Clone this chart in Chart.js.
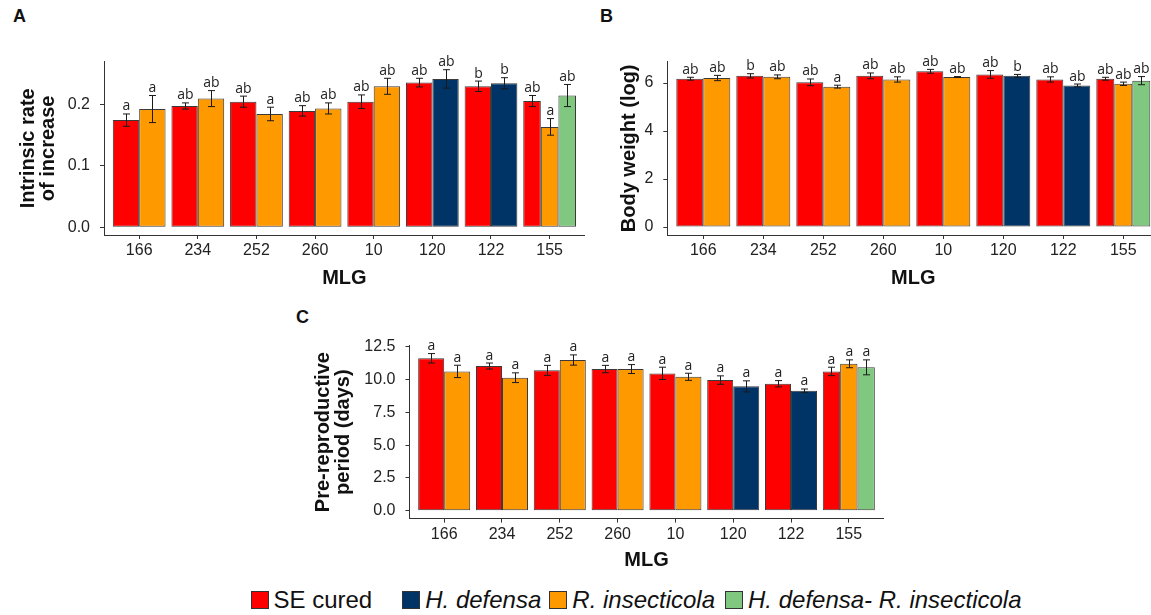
<!DOCTYPE html>
<html>
<head>
<meta charset="utf-8">
<script src="https://cdn.jsdelivr.net/npm/chart.js@4.4.1/dist/chart.umd.min.js"></script>
<style>
  body { margin: 0; width: 1151px; height: 615px; overflow: hidden; background: #fff; position: relative; font-family: "Liberation Sans", Arial, sans-serif; }
  canvas { position: absolute; }
  .tag { position: absolute; font: bold 18px "Liberation Sans", Arial, sans-serif; line-height: 20px; color: #111; }
  #legend { position: absolute; top: 587px; left: 0; width: 1272px; display: flex; justify-content: center; align-items: center; font-size: 24px; color: #111; line-height: 26px; }
  #legend .sw { width: 16px; height: 16px; border: 1px solid #333; margin-right: 5px; }
  #legend i { font-style: italic; }
</style>
</head>
<body>
<div class="tag" style="left:13px;top:6px">A</div>
<div class="tag" style="left:600px;top:6px">B</div>
<div class="tag" style="left:296px;top:307px">C</div>

<canvas id="rateChart" width="600" height="300" style="left:0;top:0"></canvas>
<canvas id="weightChart" width="600" height="300" style="left:580px;top:0"></canvas>
<canvas id="periodChart" width="640" height="285" style="left:270px;top:300px"></canvas>

<div id="legend">
  <span class="sw" style="background:#FF0000"></span><span style="margin-right:30px">SE cured</span>
  <span class="sw" style="background:#003366"></span><span style="margin-right:8px"><i>H. defensa</i></span>
  <span class="sw" style="background:#FF9900"></span><span style="margin-right:10px"><i>R. insecticola</i></span>
  <span class="sw" style="background:#80C880"></span><span><i>H. defensa- R. insecticola</i></span>
</div>

<script>
// ── Data ─────────────────────────────────────────────────────
const mlg = ['166', '234', '252', '260', '10', '120', '122', '155'];

// A: intrinsic rate of increase
const rateCured     = [0.174, 0.197, 0.204, 0.189, 0.204, 0.235, 0.229, 0.205];
const rateCuredErr  = [0.010, 0.005, 0.009, 0.0085, 0.011, 0.007, 0.0085, 0.009];
const rateCuredLet  = ['a', 'ab', 'ab', 'ab', 'ab', 'ab', 'b', 'ab'];
const rateHd        = [null, null, null, null, null, 0.241, 0.234, null];
const rateHdErr     = [null, null, null, null, null, 0.015, 0.009, null];
const rateHdLet     = [null, null, null, null, null, 'ab', 'b', null];
const rateRi        = [0.192, 0.209, 0.184, 0.193, 0.229, null, null, 0.163];
const rateRiErr     = [0.022, 0.013, 0.011, 0.009, 0.013, null, null, 0.0135];
const rateRiLet     = ['a', 'ab', 'a', 'ab', 'ab', null, null, 'a'];
const rateHdRi      = [null, null, null, null, null, null, null, 0.214];
const rateHdRiErr   = [null, null, null, null, null, null, null, 0.018];
const rateHdRiLet   = [null, null, null, null, null, null, null, 'ab'];
const rateTicks     = [0, 0.1, 0.2];

// B: body weight (log)
const wtCured       = [6.18, 6.30, 6.03, 6.30, 6.49, 6.36, 6.15, 6.18];
const wtCuredErr    = [0.06, 0.09, 0.14, 0.12, 0.08, 0.16, 0.11, 0.06];
const wtCuredLet    = ['ab', 'b', 'ab', 'ab', 'ab', 'ab', 'ab', 'ab'];
const wtHd          = [null, null, null, null, null, 6.30, 5.90, null];
const wtHdErr       = [null, null, null, null, null, 0.06, 0.06, null];
const wtHdLet       = [null, null, null, null, null, 'b', 'ab', null];
const wtRi          = [6.21, 6.26, 5.85, 6.15, 6.25, null, null, 5.97];
const wtRiErr       = [0.11, 0.08, 0.06, 0.11, 0.02, null, null, 0.07];
const wtRiLet       = ['ab', 'ab', 'a', 'ab', 'ab', null, null, 'ab'];
const wtHdRi        = [null, null, null, null, null, null, null, 6.10];
const wtHdRiErr     = [null, null, null, null, null, null, null, 0.17];
const wtHdRiLet     = [null, null, null, null, null, null, null, 'ab'];
const wtTicks       = [0, 2, 4, 6];

// C: pre-reproductive period (days)
const perCured      = [11.62, 11.03, 10.70, 10.80, 10.47, 9.96, 9.68, 10.62];
const perCuredErr   = [0.36, 0.23, 0.38, 0.28, 0.47, 0.32, 0.24, 0.32];
const perCuredLet   = ['a', 'a', 'a', 'a', 'a', 'a', 'a', 'a'];
const perHd         = [null, null, null, null, null, 9.48, 9.15, null];
const perHdErr      = [null, null, null, null, null, 0.42, 0.13, null];
const perHdLet      = [null, null, null, null, null, 'a', 'a', null];
const perRi         = [10.62, 10.14, 11.49, 10.80, 10.21, null, null, 11.20];
const perRiErr      = [0.47, 0.37, 0.39, 0.34, 0.27, null, null, 0.30];
const perRiLet      = ['a', 'a', 'a', 'a', 'a', null, null, 'a'];
const perHdRi       = [null, null, null, null, null, null, null, 10.93];
const perHdRiErr    = [null, null, null, null, null, null, null, 0.57];
const perHdRiLet    = [null, null, null, null, null, null, null, 'a'];
const perTicks      = [0, 2.5, 5, 7.5, 10, 12.5];

// ── Styling ──────────────────────────────────────────────────
const COLORS = { cured: '#FF0000', hd: '#003366', ri: '#FF9900', hdri: '#80C880' };
const barEdge = '#3a3a3a';
const axisColor = '#333';
const tickFont = { family: '"Liberation Sans", Arial, sans-serif', size: 16 };
const titleFont = { family: '"Liberation Sans", Arial, sans-serif', size: 20, weight: 'bold', lineHeight: 1 };

// error bars + significance letters on top of each bar
const errorBars = {
  id: 'errorBars',
  afterDatasetsDraw(chart) {
    const { ctx } = chart;
    const y = chart.scales.y;
    ctx.save();
    chart.data.datasets.forEach((ds, i) => {
      const meta = chart.getDatasetMeta(i);
      meta.data.forEach((bar, j) => {
        const v = ds.data[j];
        if (v == null) return;
        const top = y.getPixelForValue(v + ds.errors[j]);
        const bot = y.getPixelForValue(v - ds.errors[j]);
        const x = Math.round(bar.x) + 0.5;
        ctx.strokeStyle = '#1a1a1a';
        ctx.lineWidth = 1;
        ctx.beginPath();
        ctx.moveTo(x, top); ctx.lineTo(x, bot);
        ctx.moveTo(x - 3.5, top); ctx.lineTo(x + 3.5, top);
        ctx.moveTo(x - 3.5, bot); ctx.lineTo(x + 3.5, bot);
        ctx.stroke();
        if (ds.letters[j]) {
          ctx.fillStyle = '#222';
          ctx.font = '14px "Open Sans", sans-serif';
          ctx.textAlign = 'center';
          ctx.textBaseline = 'alphabetic';
          ctx.fillText(ds.letters[j], x, top - 3.5);
        }
      });
    });
    ctx.restore();
  },
};

function series(name, color, values, errors, letters) {
  return {
    label: name, data: values, errors, letters,
    backgroundColor: color, borderColor: barEdge, borderWidth: 1, borderSkipped: false,
    skipNull: true, categoryPercentage: 0.9, barPercentage: 1,
  };
}

// p.area = chart area inside the canvas (ggplot-like panel)
function renderPanel(canvasId, p) {
  const ctx = document.getElementById(canvasId);
  const W = ctx.width, H = ctx.height;
  return new Chart(ctx, {
    type: 'bar',
    data: { labels: mlg, datasets: p.datasets },
    options: {
      responsive: false,
      animation: false,
      layout: { padding: { left: 0, top: p.area.top, right: W - p.area.right, bottom: 0 } },
      plugins: { legend: { display: false }, tooltip: { enabled: false } },
      scales: {
        x: {
          offset: true,
          grid: { offset: false, drawOnChartArea: false, drawTicks: true, tickLength: 4, color: axisColor },
          border: { display: true, color: axisColor, width: 1 },
          ticks: { color: '#222', font: tickFont, padding: 2, maxRotation: 0, autoSkip: false },
          title: { display: true, text: 'MLG', color: '#111', font: titleFont, padding: { top: 0, bottom: p.xTitlePad } },
          // ggplot-style 0.6 category expansion on both sides
          afterBuildTicks: (s) => { s._startValue = -0.6; s._valueRange = mlg.length + 0.2; },
          afterFit: (s) => { s.height = H - p.area.bottom; },
        },
        y: {
          min: p.yMin,
          max: p.yMax,
          grid: { drawOnChartArea: false, drawTicks: true, tickLength: 4, color: axisColor },
          border: { display: true, color: axisColor, width: 1 },
          ticks: { color: '#222', font: tickFont, padding: 10, callback: p.fmt },
          title: { display: true, text: p.yTitle, color: '#111', font: titleFont, padding: { top: p.yTitlePad, bottom: 0 } },
          afterBuildTicks: (s) => { s.ticks = p.yTicks.map(v => ({ value: v })); },
          afterFit: (s) => { s.width = p.area.left; },
        },
      },
    },
    plugins: [errorBars],
  });
}

renderPanel('rateChart', {
  datasets: [
    series('SE cured', COLORS.cured, rateCured, rateCuredErr, rateCuredLet),
    series('H. defensa', COLORS.hd, rateHd, rateHdErr, rateHdLet),
    series('R. insecticola', COLORS.ri, rateRi, rateRiErr, rateRiLet),
    series('H. defensa- R. insecticola', COLORS.hdri, rateHdRi, rateHdRiErr, rateHdRiLet),
  ],
  area: { left: 104, right: 584.8, top: 61.7, bottom: 235 },
  yMin: -0.0128, yMax: 0.269, yTicks: rateTicks, fmt: v => v.toFixed(1),
  yTitle: ['Intrinsic rate', 'of increase'], yTitlePad: 18.8, xTitlePad: 11.2,
});

renderPanel('weightChart', {
  datasets: [
    series('SE cured', COLORS.cured, wtCured, wtCuredErr, wtCuredLet),
    series('H. defensa', COLORS.hd, wtHd, wtHdErr, wtHdLet),
    series('R. insecticola', COLORS.ri, wtRi, wtRiErr, wtRiLet),
    series('H. defensa- R. insecticola', COLORS.hdri, wtHdRi, wtHdRiErr, wtHdRiLet),
  ],
  area: { left: 87.3, right: 579.3, top: 61.7, bottom: 235 },
  yMin: -0.333, yMax: 6.89, yTicks: wtTicks, fmt: v => String(v),
  yTitle: 'Body weight (log)', yTitlePad: 39, xTitlePad: 11.2,
});

renderPanel('periodChart', {
  datasets: [
    series('SE cured', COLORS.cured, perCured, perCuredErr, perCuredLet),
    series('H. defensa', COLORS.hd, perHd, perHdErr, perHdLet),
    series('R. insecticola', COLORS.ri, perRi, perRiErr, perRiLet),
    series('H. defensa- R. insecticola', COLORS.hdri, perHdRi, perHdRiErr, perHdRiLet),
  ],
  area: { left: 139.5, right: 613.5, top: 45.7, bottom: 218.6 },
  yMin: -0.6, yMax: 12.58, yTicks: perTicks, fmt: v => v.toFixed(1),
  yTitle: ['Pre-reproductive', 'period (days)'], yTitlePad: 43, xTitlePad: 15,
});
</script>
</body>
</html>
